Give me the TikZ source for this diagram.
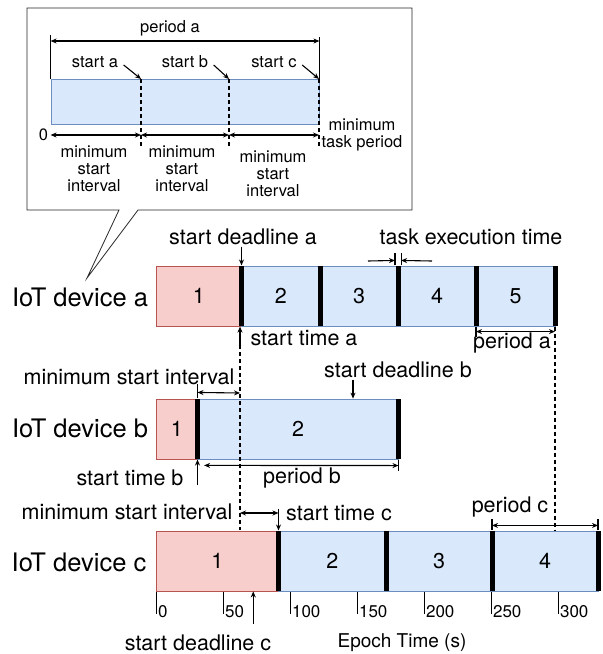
\documentclass[tikz,border=0pt]{standalone}
\usepackage{fontspec}
\setmainfont{TeX Gyre Heros}
\usetikzlibrary{arrows.meta,positioning}

\definecolor{taskred}{HTML}{F8CECC}
\definecolor{taskredline}{HTML}{B85450}
\definecolor{taskblue}{HTML}{DAE8FC}
\definecolor{taskblueline}{HTML}{6C8EBF}

\tikzset{
  redtask/.style={draw=taskredline, fill=taskred, line width=0.8pt, minimum height=60pt, inner sep=0pt, font=\fontsize{21.5}{25}\selectfont},
  bluetask/.style={draw=taskblueline, fill=taskblue, line width=0.8pt, minimum height=60pt, inner sep=0pt, font=\fontsize{21.5}{25}\selectfont},
  execbar/.style={fill=black, minimum width=5pt, minimum height=60pt, inner sep=0pt},
  note/.style={font=\fontsize{21.5}{25}\selectfont, inner sep=1pt},
  device/.style={font=\fontsize{25.5}{28}\selectfont, inner sep=1pt},
  small/.style={font=\fontsize{16.5}{17}\selectfont, align=center, inner sep=1pt},
  axislabel/.style={font=\fontsize{17}{19}\selectfont, inner sep=0pt, anchor=west},
  dashline/.style={dashed, dash pattern=on 4pt off 3pt, line width=1.1pt},
}

\begin{document}
\begin{tikzpicture}[x=1pt, y=-1pt, >={Stealth[length=6pt,width=5pt]}, line width=1.1pt]
    \useasboundingbox (0,0) rectangle (603,654);

    % callout
    \draw[line width=0.8pt, draw=black!85, fill=white] (27,8) -- (412,8) -- (412,210) -- (138,210) -- (87,278) -- (119,210) -- (27,210) -- cycle;
    \node[draw=taskblueline, fill=taskblue, line width=0.8pt, minimum width=268pt, minimum height=45pt, inner sep=0pt] (win) at (185,101.5) {};
    \coordinate (s1) at (141,79);
    \coordinate (s2) at (229,79);
    \coordinate (s3) at (319,79);

    \node[small] (perW) at (170,28) {period a};
    \draw[<->] (win.north west |- 0,41) -- (win.north east |- 0,41);
    \draw (win.north west) -- ++(0,-44);
    \draw (win.north east) -- ++(0,-42);
    \foreach \s in {s1,s2,s3}
        \draw[dashline] (\s) -- (\s |- 0,147);

    \node[small] (sa) at (95,62) {start a};
    \node[small] (sb) at (185,62) {start b};
    \node[small] (sc) at (274,62) {start c};
    \draw[->] ([shift={(4pt,-3pt)}]sa.east) -- (s1);
    \draw[->] ([shift={(4pt,-3pt)}]sb.east) -- (s2);
    \draw[->] ([shift={(4pt,-3pt)}]sc.east) -- (s3);

    \node[small] (zero) at (43.5,135) {0};
    \draw[<->] (win.south west |- 0,135) -- (s1 |- 0,135);
    \draw[<->] (s1 |- 0,135) -- (s2 |- 0,135);
    \draw[<->] (s2 |- 0,135) -- (s3 |- 0,135);
    \node[small] (msi1) at (94,169) {minimum\\start\\interval};
    \node[small] (msi2) at (182,169) {minimum\\start\\interval};
    \node[small] (msi3) at (273,174) {minimum\\start\\interval};
    \node[small] (mtp) at (362,135) {minimum\\task period};

    % IoT device a
    \node[device] (devA) at (80,297) {IoT device a};
    \node[redtask, minimum width=85.5pt] (a1) at (198.75,296) {1};
    \node[bluetask, minimum width=78.5pt] (a2) at (280.75,296) {2};
    \node[bluetask, minimum width=78pt] (a3) at (359,296) {3};
    \node[bluetask, minimum width=78pt] (a4) at (437,296) {4};
    \node[bluetask, minimum width=79pt] (a5) at (515.5,296) {5};
    \node[execbar] (ba1) at (241.5,296) {};
    \node[execbar] (ba2) at (320,296) {};
    \node[execbar] (ba3) at (398,296) {};
    \node[execbar] (ba4) at (476,296) {};
    \node[execbar] (ba5) at (555,296) {};

    % IoT device b
    \node[device] (devB) at (80,428) {IoT device b};
    \node[redtask, minimum width=41.5pt] (b1) at (176.75,429) {1};
    \node[bluetask, minimum width=201pt] (b2) at (298,429) {2};
    \node[execbar] (bb1) at (197.5,429) {};
    \node[execbar] (bb2) at (398.5,429) {};

    % IoT device c
    \node[device] (devC) at (79,562) {IoT device c};
    \node[redtask, minimum width=122.5pt] (c1) at (217.25,561) {1};
    \node[bluetask, minimum width=107.5pt] (c2) at (332.25,561) {2};
    \node[bluetask, minimum width=106pt] (c3) at (439,561) {3};
    \node[bluetask, minimum width=106pt] (c4) at (545,561) {4};
    \node[execbar] (cc1) at (278.5,561) {};
    \node[execbar] (cc2) at (386,561) {};
    \node[execbar] (cc3) at (492,561) {};
    \node[execbar] (cc4) at (598,561) {};

    % annotations of device a
    \node[note] (dlA) at (243,237) {start deadline a};
    \draw[->] (dlA.south -| ba1.north) -- (ba1.north);
    \node[note] (exec) at (471,237) {task execution time};
    \coordinate (execL) at (368,261);
    \coordinate (execR) at (432,261);
    \draw (ba3.north west) -- ++(0,-12);
    \draw (ba3.north east) -- ++(0,-12);
    \draw[->] (execL) -- ([yshift=5pt]ba3.north west);
    \draw[->] (execR) -- ([yshift=5pt]ba3.north east);
    \coordinate (stAfoot) at (240,345);
    \node[note] (stA) at (304,338) {start time a};
    \draw[->] (stAfoot) -- (stAfoot |- ba1.south);
    \draw[dashline] (stAfoot) -- (stAfoot |- cc1.north);
    \draw (ba4.south) -- ++(0,10);
    \draw[<->] ([yshift=-5pt]ba4.south) -- ([yshift=-5pt]ba5.south);
    \draw[dashline] (ba5.south) -- (ba5.south |- cc4.north);
    \node[note] (perA) at (512,343) {period a};

    % annotations of device b
    \node[note] (msiB) at (129,377) {minimum start interval};
    \draw (bb1.north) -- ++(0,-14);
    \draw[<->] ([yshift=6pt]bb1.north) -- (stAfoot |- 0,393);
    \node[note] (dlB) at (398,370) {start deadline b};
    \draw[->] ([xshift=55pt]b2.north |- dlB.south) -- ([xshift=55pt]b2.north);
    \node[note] (stB) at (130,478) {start time b};
    \draw[->] (bb1.south |- 0,485) -- (bb1.south);
    \draw (bb2.south) -- ++(0,11);
    \draw[<->] ([shift={(7pt,-6pt)}]b2.south west) -- ([yshift=-6pt]bb2.south);
    \node[note] (perB) at (302,478) {period b};

    % annotations of device c
    \node[note] (msiC) at (127,512) {minimum start interval};
    \draw[<->] (stAfoot |- 0,513) -- (cc1.north |- 0,513);
    \node[note] (stC) at (339,513) {start time c};
    \draw[->] (cc1.north |- 0,509) -- (cc1.north);
    \node[note] (perC) at (510,507) {period c};
    \draw (cc3.north) -- ++(0,-11);
    \draw (cc4.north) -- ++(0,-11);
    \draw[<->] ([yshift=5pt]cc3.north) -- ([yshift=5pt]cc4.north);

    % time axis
    \foreach \t in {0,50,...,300} {
        \draw[line width=0.9pt] (156+1.34*\t,592) -- ++(0,22);
        \node[axislabel] (t\t) at (157.5+1.34*\t,612) {\t};
    }
    \node[note] (dlC) at (198,643) {start deadline c};
    \draw[->] ([xshift=36pt]c1.south |- 0,624) -- ([xshift=36pt]c1.south);
    \node[note, font=\fontsize{19}{22}\selectfont] (epoch) at (402,643) {Epoch Time (s)};
\end{tikzpicture}
\end{document}
